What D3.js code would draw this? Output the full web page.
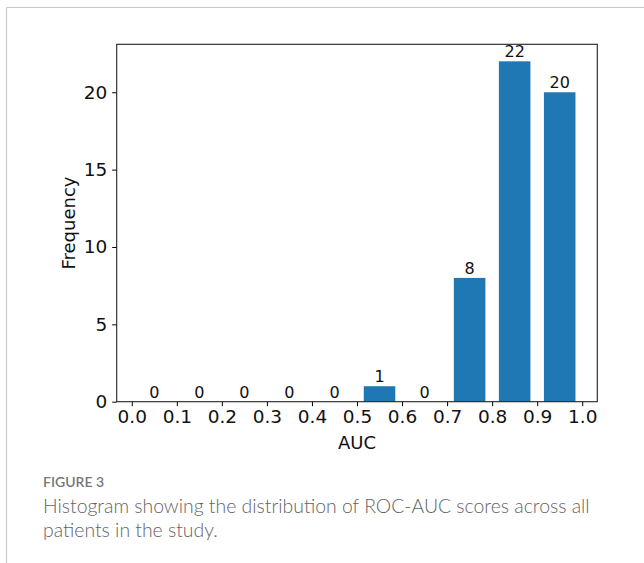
<!DOCTYPE html>
<html>
<head>
<meta charset="utf-8">
<script src="https://cdn.jsdelivr.net/npm/d3@7"></script>
<style>
  html, body { margin: 0; padding: 0; background: #fff; }
  svg { display: block; }
</style>
</head>
<body>
<svg id="chart" width="644" height="563"></svg>
<script>
// Data
const binCenters = [0.05, 0.15, 0.25, 0.35, 0.45, 0.55, 0.65, 0.75, 0.85, 0.95];
const counts = [0, 0, 0, 0, 0, 1, 0, 8, 22, 20];
const xTicks = [0.0, 0.1, 0.2, 0.3, 0.4, 0.5, 0.6, 0.7, 0.8, 0.9, 1.0];
const yTicks = [0, 5, 10, 15, 20];
const barWidth = 0.07;
const captionTitle = "FIGURE 3";
const captionLines = ["Histogram showing the distribution of ROC-AUC scores across all", "patients in the study."];

(function () {
const svg = d3.select("#chart");

// outer frame
svg.append("line").attr("x1", 6.5).attr("x2", 644).attr("y1", 7.5).attr("y2", 7.5)
  .attr("stroke", "#c8c8c8").attr("stroke-width", 1.2);
svg.append("line").attr("x1", 6.5).attr("x2", 6.5).attr("y1", 7.5).attr("y2", 563)
  .attr("stroke", "#c8c8c8").attr("stroke-width", 1.2);

const pL = 116.7, pR = 597.3, pT = 44.3, pB = 401.7;
const x = d3.scaleLinear().domain([-0.0335, 1.0335]).range([pL, pR]);
const y = d3.scaleLinear().domain([0, 23.1]).range([pB, pT]);

const font = "'DejaVu Sans', sans-serif";

// bars
svg.append("g").selectAll("rect").data(binCenters).join("rect")
  .attr("x", (d) => x(d - barWidth / 2))
  .attr("width", (d) => x(d + barWidth / 2) - x(d - barWidth / 2))
  .attr("y", (d, i) => y(counts[i]))
  .attr("height", (d, i) => y(0) - y(counts[i]))
  .attr("fill", "#1f77b4");

// value labels
svg.append("g").selectAll("text").data(binCenters).join("text")
  .attr("x", (d) => x(d))
  .attr("y", (d, i) => y(counts[i]) - 4)
  .attr("text-anchor", "middle")
  .attr("font-family", font)
  .attr("font-size", 16)
  .attr("fill", "#111")
  .text((d, i) => counts[i]);

// axes
const xAxis = d3.axisBottom(x).tickValues(xTicks).tickFormat(d3.format(".1f")).tickSize(4.5).tickPadding(4);
const gx = svg.append("g").attr("transform", `translate(0,${pB})`).call(xAxis);
gx.select(".domain").remove();
gx.selectAll("text").attr("font-family", font).attr("font-size", 18.5).attr("fill", "#111");
gx.selectAll("line").attr("stroke", "#000");

const yAxis = d3.axisLeft(y).tickValues(yTicks).tickSize(4.5).tickPadding(5);
const gy = svg.append("g").attr("transform", `translate(${pL},0)`).call(yAxis);
gy.select(".domain").remove();
gy.selectAll("text").attr("font-family", font).attr("font-size", 18.5).attr("fill", "#111");
gy.selectAll("line").attr("stroke", "#000");

// spines
svg.append("rect").attr("x", pL).attr("y", pT).attr("width", pR - pL).attr("height", pB - pT)
  .attr("fill", "none").attr("stroke", "#222").attr("stroke-width", 1.1);

// axis labels
svg.append("text").attr("x", (pL + pR) / 2).attr("y", 449)
  .attr("text-anchor", "middle").attr("font-family", font).attr("font-size", 18).attr("fill", "#111")
  .text("AUC");
svg.append("text").attr("transform", `translate(75,${(pT + pB) / 2}) rotate(-90)`)
  .attr("text-anchor", "middle").attr("font-family", font).attr("font-size", 18).attr("fill", "#111")
  .text("Frequency");

// caption
svg.append("text").attr("x", 43).attr("y", 487)
  .attr("font-family", "Lato, 'Open Sans', sans-serif").attr("font-size", 14).attr("font-weight", 600)
  .attr("fill", "#777").text(captionTitle);
svg.append("g").selectAll("text").data(captionLines).join("text")
  .attr("x", 43).attr("y", (d, i) => 513 + i * 23.5)
  .attr("font-family", "Lato, 'Open Sans', sans-serif").attr("font-size", 19.4).attr("font-weight", 300)
  .attr("fill", "#636363").text((d) => d);
})();
</script>
</body>
</html>
